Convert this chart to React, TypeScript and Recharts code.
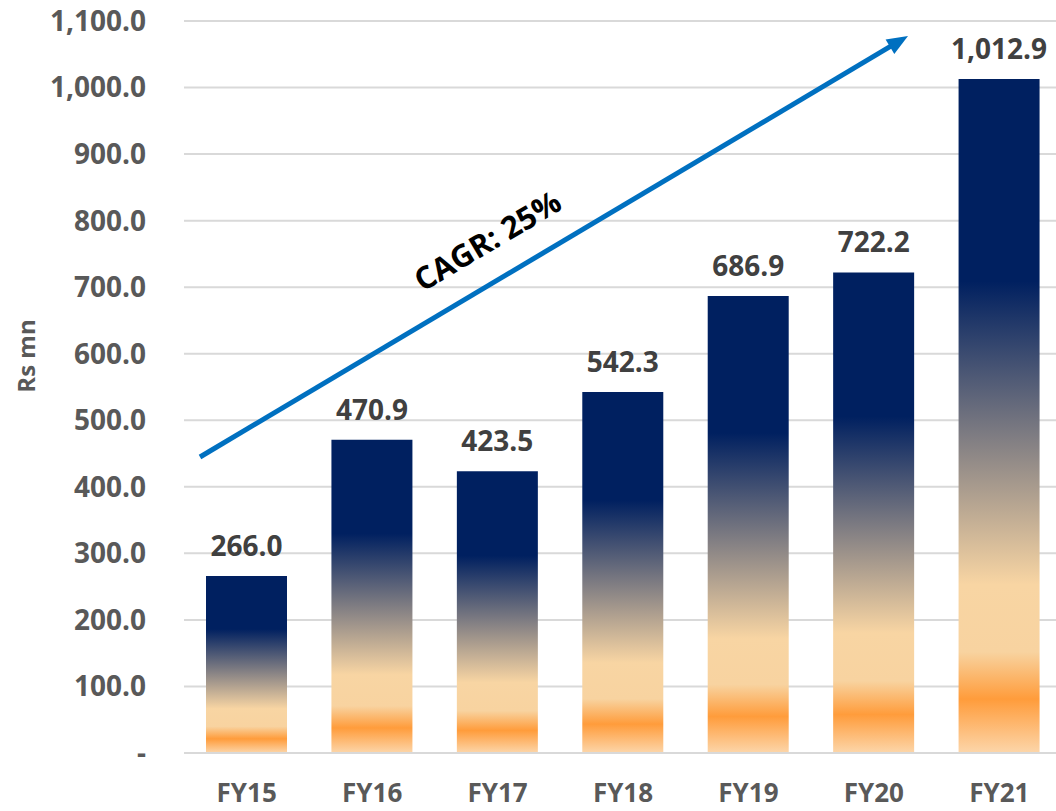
import React from 'react';
import { BarChart, Bar, XAxis, YAxis, CartesianGrid, LabelList, Customized } from 'recharts';

const categories = ['FY15', 'FY16', 'FY17', 'FY18', 'FY19', 'FY20', 'FY21'];
const revenue = [266.0, 470.9, 423.5, 542.3, 686.9, 722.2, 1012.9];
const yTicks = [0, 100, 200, 300, 400, 500, 600, 700, 800, 900, 1000, 1100];
const annotationText = 'CAGR: 25%';
const axisTitle = 'Rs mn';

const data = categories.map((c, i) => ({ name: c, value: revenue[i] }));

const FONT = '"Open Sans", "Liberation Sans", sans-serif';

const fmt = (v: number) =>
  v.toLocaleString('en-US', { minimumFractionDigits: 1, maximumFractionDigits: 1 });

const Overlay = () => {
  const x0 = 200, y0 = 457, tx = 908, ty = 36;
  const dx = tx - x0, dy = ty - y0;
  const len = Math.sqrt(dx * dx + dy * dy);
  const ux = dx / len, uy = dy / len;
  const hl = 21, hw = 8.5;
  const bx = tx - ux * hl, by = ty - uy * hl;
  const px = -uy, py = ux;
  const pts = `${tx},${ty} ${bx + px * hw},${by + py * hw} ${bx - px * hw},${by - py * hw}`;
  const ang = (Math.atan2(dy, dx) * 180) / Math.PI;
  const cx = 487, cy = 240;
  return (
    <g>
      <line x1={x0} y1={y0} x2={bx + ux * 2} y2={by + uy * 2} stroke="#0070c0" strokeWidth={5} />
      <polygon points={pts} fill="#0070c0" />
      <text
        x={cx}
        y={cy}
        textAnchor="middle"
        dominantBaseline="central"
        transform={`rotate(${ang}, ${cx}, ${cy})`}
        fontFamily={FONT}
        fontWeight={700}
        fontSize={31}
        fill="#000000"
      >
        {annotationText}
      </text>
      <text
        x={25}
        y={356}
        textAnchor="middle"
        dominantBaseline="central"
        transform={`rotate(-90, 25, 356)`}
        fontFamily={FONT}
        fontWeight={700}
        fontSize={24}
        fill="#595959"
      >
        {axisTitle}
      </text>
    </g>
  );
};

export default function App() {
  return (
    <div style={{ position: 'fixed', left: 0, top: 0, width: 1056, height: 811, overflow: 'hidden', background: '#fff' }}>
      <BarChart
        width={1070}
        height={811}
        data={data}
        margin={{ top: 21, right: 8, bottom: 0, left: 0 }}
      >
        <defs>
          <linearGradient id="barGrad" x1="0" y1="0" x2="0" y2="1">
            <stop offset="0" stopColor="#002060" />
            <stop offset="0.30" stopColor="#002060" />
            <stop offset="0.75" stopColor="#f8d5a3" />
            <stop offset="0.85" stopColor="#f8d3a0" />
            <stop offset="0.92" stopColor="#ff9c3b" />
            <stop offset="1" stopColor="#fcd6aa" />
          </linearGradient>
        </defs>
        <CartesianGrid vertical={false} stroke="#d9d9d9" strokeWidth={2} />
        <XAxis
          dataKey="name"
          height={58}
          axisLine={{ stroke: '#d9d9d9', strokeWidth: 2 }}
          tickLine={false}
          tickSize={0}
          tickMargin={31}
          tick={{ fill: '#595959', fontFamily: FONT, fontWeight: 700, fontSize: 26 }}
          interval={0}
        />
        <YAxis
          width={184}
          domain={[0, 1100]}
          ticks={yTicks}
          axisLine={false}
          tickLine={false}
          tickSize={0}
          tickMargin={38}
          tickFormatter={(v: number) => (v === 0 ? '-' : fmt(v))}
          tick={{ fill: '#595959', fontFamily: FONT, fontWeight: 700, fontSize: 28 }}
        />
        <Bar dataKey="value" fill="url(#barGrad)" barSize={81} isAnimationActive={false}>
          <LabelList
            dataKey="value"
            position="top"
            offset={20}
            formatter={(v: number) => fmt(v)}
            style={{ fill: '#404040', fontFamily: FONT, fontWeight: 700, fontSize: 28 }}
          />
        </Bar>
        <Customized component={Overlay} />
      </BarChart>
    </div>
  );
}
